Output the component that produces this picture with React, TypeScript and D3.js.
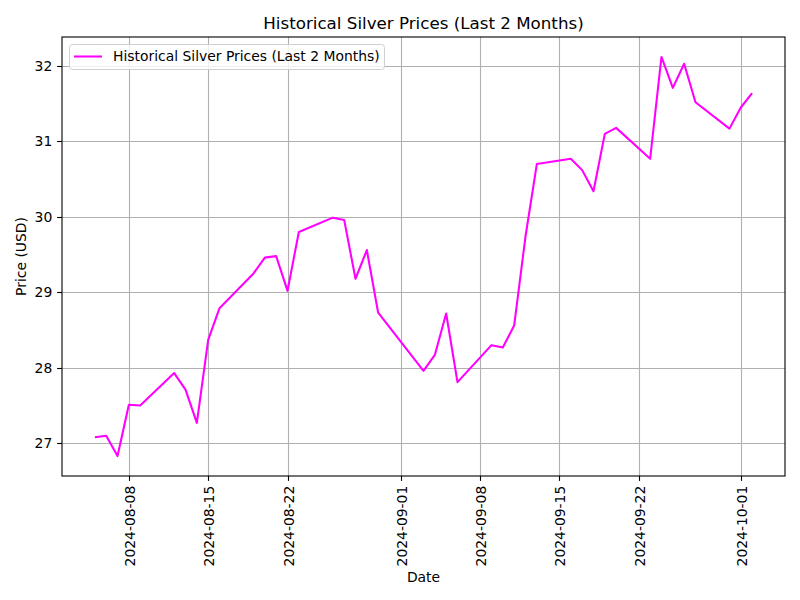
import React, { useEffect, useRef } from "react";
import * as d3 from "d3";

const dates: string[] = [
  "2024-08-05", "2024-08-06", "2024-08-07", "2024-08-08", "2024-08-09",
  "2024-08-12", "2024-08-13", "2024-08-14", "2024-08-15", "2024-08-16",
  "2024-08-19", "2024-08-20", "2024-08-21", "2024-08-22", "2024-08-23",
  "2024-08-26", "2024-08-27", "2024-08-28", "2024-08-29", "2024-08-30",
  "2024-09-03", "2024-09-04", "2024-09-05", "2024-09-06",
  "2024-09-09", "2024-09-10", "2024-09-11", "2024-09-12", "2024-09-13",
  "2024-09-16", "2024-09-17", "2024-09-18", "2024-09-19", "2024-09-20",
  "2024-09-23", "2024-09-24", "2024-09-25", "2024-09-26", "2024-09-27",
  "2024-09-30", "2024-10-01", "2024-10-02",
];

const prices: number[] = [
  27.08, 27.10, 26.83, 27.51, 27.50,
  27.93, 27.71, 27.27, 28.37, 28.79,
  29.25, 29.46, 29.48, 29.02, 29.80,
  29.99, 29.96, 29.18, 29.56, 28.73,
  27.96, 28.17, 28.72, 27.81,
  28.30, 28.27, 28.56, 29.74, 30.70,
  30.77, 30.62, 30.34, 31.10, 31.18,
  30.77, 32.12, 31.71, 32.03, 31.52,
  31.17, 31.45, 31.64,
];

const xTickDates: string[] = [
  "2024-08-08", "2024-08-15", "2024-08-22", "2024-09-01",
  "2024-09-08", "2024-09-15", "2024-09-22", "2024-10-01",
];
const yTicks: number[] = [27, 28, 29, 30, 31, 32];

const seriesName = "Historical Silver Prices (Last 2 Months)";
const title = "Historical Silver Prices (Last 2 Months)";

const W = 800, H = 600;
const left = 62, right = 785, top = 37, bottom = 476;
const FONT = "DejaVu Sans, sans-serif";
const FS = 13.9;

export default function App() {
  const ref = useRef<SVGSVGElement>(null);
  useEffect(() => {
    document.body.style.margin = "0";
    const svg = d3.select(ref.current);
    svg.selectAll("*").remove();
    const parse = d3.utcParse("%Y-%m-%d");
    const data = dates.map((d, i) => ({ date: parse(d)!, v: prices[i] }));

    const xExt = d3.extent(data, (d) => +d.date) as [number, number];
    const xPad = (xExt[1] - xExt[0]) * 0.05;
    const x = d3.scaleUtc().domain([new Date(xExt[0] - xPad), new Date(xExt[1] + xPad)]).range([left, right]);
    const yExt = d3.extent(prices) as [number, number];
    const yPad = (yExt[1] - yExt[0]) * 0.05;
    const y = d3.scaleLinear().domain([yExt[0] - yPad, yExt[1] + yPad]).range([bottom, top]);

    svg.append("rect").attr("width", W).attr("height", H).attr("fill", "white");

    const xt = xTickDates.map((d) => parse(d)!);
    const g = svg.append("g");
    g.selectAll("line.gx").data(xt).enter().append("line")
      .attr("x1", (d) => Math.round(x(d)) + 0.5).attr("x2", (d) => Math.round(x(d)) + 0.5)
      .attr("y1", top).attr("y2", bottom)
      .attr("stroke", "#b0b0b0").attr("stroke-width", 1.1);
    g.selectAll("line.gy").data(yTicks).enter().append("line")
      .attr("y1", (d) => Math.round(y(d)) + 0.5).attr("y2", (d) => Math.round(y(d)) + 0.5)
      .attr("x1", left).attr("x2", right)
      .attr("stroke", "#b0b0b0").attr("stroke-width", 1.1);

    const line = d3.line<{ date: Date; v: number }>().x((d) => x(d.date)).y((d) => y(d.v));
    svg.append("path").datum(data).attr("d", line).attr("fill", "none")
      .attr("stroke", "#ff00ff").attr("stroke-width", 2.08).attr("stroke-linejoin", "round");

    svg.append("rect").attr("x", left).attr("y", top).attr("width", right - left).attr("height", bottom - top)
      .attr("fill", "none").attr("stroke", "black").attr("stroke-width", 1.1);

    xt.forEach((d) => {
      const px = Math.round(x(d)) + 0.5;
      svg.append("line").attr("x1", px).attr("x2", px).attr("y1", bottom).attr("y2", bottom + 4.9)
        .attr("stroke", "black").attr("stroke-width", 1.1);
      svg.append("text")
        .attr("transform", `translate(${px + 5},${bottom + 9.7}) rotate(-90)`)
        .attr("text-anchor", "end")
        .attr("font-family", FONT).attr("font-size", FS)
        .text(d3.utcFormat("%Y-%m-%d")(d));
    });
    yTicks.forEach((v) => {
      const py = Math.round(y(v)) + 0.5;
      svg.append("line").attr("x1", left - 4.9).attr("x2", left).attr("y1", py).attr("y2", py)
        .attr("stroke", "black").attr("stroke-width", 1.1);
      svg.append("text").attr("x", left - 9.7).attr("y", py).attr("dy", "0.35em")
        .attr("text-anchor", "end").attr("font-family", FONT).attr("font-size", FS)
        .text(String(v));
    });

    svg.append("text").attr("x", (left + right) / 2).attr("y", 29).attr("text-anchor", "middle")
      .attr("font-family", FONT).attr("font-size", 16.7).text(title);
    svg.append("text").attr("x", (left + right) / 2).attr("y", 582).attr("text-anchor", "middle")
      .attr("font-family", FONT).attr("font-size", FS).text("Date");
    svg.append("text").attr("transform", `translate(26,${(top + bottom) / 2}) rotate(-90)`)
      .attr("text-anchor", "middle").attr("font-family", FONT).attr("font-size", FS).text("Price (USD)");

    const lg = svg.append("g");
    lg.append("rect").attr("x", 69.5).attr("y", 44.5).attr("width", 315).attr("height", 25).attr("rx", 3)
      .attr("fill", "white").attr("fill-opacity", 0.8).attr("stroke", "#d0d0d0").attr("stroke-width", 1);
    lg.append("line").attr("x1", 74).attr("x2", 102).attr("y1", 56.5).attr("y2", 56.5)
      .attr("stroke", "#ff00ff").attr("stroke-width", 2.08);
    lg.append("text").attr("x", 113).attr("y", 56.5).attr("dy", "0.35em")
      .attr("font-family", FONT).attr("font-size", FS).text(seriesName);
  }, []);
  return <svg ref={ref} width={W} height={H} style={{ display: "block" }} />;
}
